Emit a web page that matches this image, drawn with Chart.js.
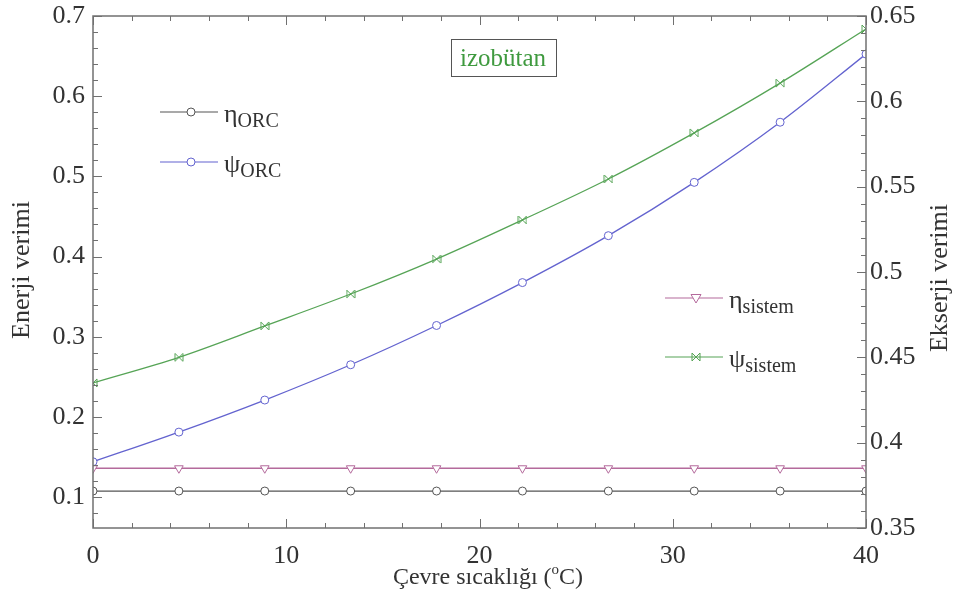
<!DOCTYPE html>
<html>
<head>
<meta charset="utf-8">
<script src="https://cdn.jsdelivr.net/npm/chart.js@4"></script>
<style>
  body { margin: 0; background: #fff; }
  canvas { display: block; }
</style>
</head>
<body>
<canvas id="verimChart" width="960" height="610"></canvas>
<script>
// Çevre sıcaklığı (°C) ve verimler
const sicaklik = [0, 4.444, 8.889, 13.333, 17.778, 22.222, 26.667, 31.111, 35.556, 40];
const etaORC = [0.1075, 0.1075, 0.1075, 0.1075, 0.1075, 0.1075, 0.1075, 0.1075, 0.1075, 0.1075];
const psiORC = [0.144, 0.181, 0.221, 0.265, 0.314, 0.3675, 0.426, 0.4925, 0.5675, 0.6525];
const etaSistem = [0.385, 0.385, 0.385, 0.385, 0.385, 0.385, 0.385, 0.385, 0.385, 0.385];
const psiSistem = [0.435, 0.450, 0.4684, 0.4871, 0.5076, 0.5305, 0.5545, 0.5815, 0.6107, 0.6424];

const xTicks = [0, 10, 20, 30, 40];
const solTicks = [0.1, 0.2, 0.3, 0.4, 0.5, 0.6, 0.7];
const sagTicks = [0.35, 0.4, 0.45, 0.5, 0.55, 0.6, 0.65];

const FONT = '"Liberation Serif", "Times New Roman", serif';
const TEXT = '#333';
const FRAME = '#707070';

const renkler = {
    etaORC: '#555555',
    psiORC: '#6363cf',
    etaSistem: '#b46a9c',
    psiSistem: '#56a456'
};

const pts = (vals) => vals.map((v, i) => ({ x: sicaklik[i], y: v }));
const fmt = (v) => String(+v.toFixed(2));

// "|><|" işareti
const bowtie = (color, s) => {
    const c = document.createElement('canvas');
    c.width = s * 2 + 2; c.height = s * 2 + 2;
    const g = c.getContext('2d');
    g.translate(s + 1, s + 1);
    g.strokeStyle = color;
    g.lineWidth = 1;
    g.beginPath();
    g.moveTo(-s, -s); g.lineTo(-s, s);
    g.moveTo(s, -s); g.lineTo(s, s);
    g.moveTo(-s, -s); g.lineTo(s, s);
    g.moveTo(-s, s); g.lineTo(s, -s);
    g.stroke();
    return c;
};

const bowtieMarker = bowtie(renkler.psiSistem, 4);

const drawMarker = (ctx, kind, color, x, y) => {
    ctx.save();
    ctx.strokeStyle = color;
    ctx.fillStyle = '#fff';
    ctx.lineWidth = 1;
    ctx.beginPath();
    if (kind === 'circle') {
        ctx.arc(x, y, 4, 0, Math.PI * 2);
        ctx.fill(); ctx.stroke();
    } else if (kind === 'tri') {
        ctx.moveTo(x - 5, y - 3.5);
        ctx.lineTo(x + 5, y - 3.5);
        ctx.lineTo(x, y + 5);
        ctx.closePath();
        ctx.fill(); ctx.stroke();
    } else {
        ctx.drawImage(bowtieMarker, x - bowtieMarker.width / 2, y - bowtieMarker.height / 2);
    }
    ctx.restore();
};

const legendItems = [
    { sym: 'η', sub: 'ORC', color: renkler.etaORC, kind: 'circle', x: 160, y: 112 },
    { sym: 'ψ', sub: 'ORC', color: renkler.psiORC, kind: 'circle', x: 160, y: 162 },
    { sym: 'η', sub: 'sistem', color: renkler.etaSistem, kind: 'tri', x: 665, y: 298 },
    { sym: 'ψ', sub: 'sistem', color: renkler.psiSistem, kind: 'bowtie', x: 665, y: 357 }
];

const cerceve = {
    id: 'cerceve',
    afterDraw(chart) {
        const { ctx, chartArea: a, scales } = chart;
        ctx.save();
        ctx.strokeStyle = FRAME;
        ctx.lineWidth = 1.5;
        ctx.strokeRect(a.left, a.top, a.right - a.left, a.bottom - a.top);

        ctx.lineWidth = 1;
        ctx.beginPath();
        // x ekseni (alt ve üst), içe dönük çentikler
        for (let v = 0; v <= 40; v += 2) {
            const px = Math.round(scales.x.getPixelForValue(v)) + 0.5;
            const len = v % 10 === 0 ? 9 : 5;
            ctx.moveTo(px, a.bottom); ctx.lineTo(px, a.bottom - len);
            ctx.moveTo(px, a.top); ctx.lineTo(px, a.top + len);
        }
        // sol eksen
        for (let k = 4; k <= 35; k++) {
            const py = Math.round(scales.y.getPixelForValue(k * 0.02)) + 0.5;
            const len = k % 5 === 0 ? 9 : 5;
            ctx.moveTo(a.left, py); ctx.lineTo(a.left + len, py);
        }
        // sağ eksen
        for (let k = 35; k <= 65; k++) {
            const py = Math.round(scales.y1.getPixelForValue(k * 0.01)) + 0.5;
            const len = k % 5 === 0 ? 9 : 5;
            ctx.moveTo(a.right, py); ctx.lineTo(a.right - len, py);
        }
        ctx.stroke();

        // eksen başlıkları
        ctx.fillStyle = TEXT;
        ctx.font = '26px ' + FONT;
        ctx.textAlign = 'center';
        ctx.textBaseline = 'middle';
        ctx.save();
        ctx.translate(22, 270);
        ctx.rotate(-Math.PI / 2);
        ctx.fillText('Enerji verimi', 0, 0);
        ctx.restore();
        ctx.save();
        ctx.translate(940, 278);
        ctx.rotate(-Math.PI / 2);
        ctx.fillText('Ekserji verimi', 0, 0);
        ctx.restore();

        const p1 = 'Çevre sıcaklığı (', p2 = 'o', p3 = 'C)';
        ctx.font = '24px ' + FONT;
        const w1 = ctx.measureText(p1).width, w3 = ctx.measureText(p3).width;
        ctx.font = '15px ' + FONT;
        const w2 = ctx.measureText(p2).width;
        const x0 = 488 - (w1 + w2 + w3) / 2;
        const yb = 584;
        ctx.textAlign = 'left';
        ctx.textBaseline = 'alphabetic';
        ctx.font = '24px ' + FONT;
        ctx.fillText(p1, x0, yb);
        ctx.font = '15px ' + FONT;
        ctx.fillText(p2, x0 + w1, yb - 10);
        ctx.font = '24px ' + FONT;
        ctx.fillText(p3, x0 + w1 + w2, yb);

        // akışkan kutusu
        ctx.strokeStyle = '#555';
        ctx.lineWidth = 1;
        ctx.strokeRect(451.5, 39.5, 105, 37);
        ctx.fillStyle = '#3f9a3f';
        ctx.font = '25px ' + FONT;
        ctx.textAlign = 'center';
        ctx.textBaseline = 'middle';
        ctx.fillText('izobütan', 503, 59);

        // gösterge
        legendItems.forEach(it => {
            ctx.strokeStyle = it.color;
            ctx.lineWidth = 1.2;
            ctx.beginPath();
            ctx.moveTo(it.x, it.y); ctx.lineTo(it.x + 58, it.y);
            ctx.stroke();
            drawMarker(ctx, it.kind, it.color, it.x + 31, it.y);
            ctx.fillStyle = TEXT;
            ctx.textAlign = 'left';
            ctx.textBaseline = 'alphabetic';
            ctx.font = '26px ' + FONT;
            const sx = it.x + 64;
            ctx.fillText(it.sym, sx, it.y + 10);
            const sw = ctx.measureText(it.sym).width;
            ctx.font = '20px ' + FONT;
            ctx.fillText(it.sub, sx + sw, it.y + 15);
        });
        ctx.restore();
    }
};

const dataset = (label, vals, axis, color, style) => ({
    label,
    data: pts(vals),
    yAxisID: axis,
    borderColor: color,
    borderWidth: 1.3,
    pointStyle: style.pointStyle,
    rotation: style.rotation || 0,
    pointRadius: style.radius || 4,
    pointBackgroundColor: '#fff',
    pointBorderColor: color,
    pointBorderWidth: 1,
    cubicInterpolationMode: 'monotone',
    fill: false
});

const tickFont = { family: FONT, size: 26 };

new Chart(document.getElementById('verimChart'), {
    type: 'line',
    data: {
        datasets: [
            dataset('ηORC', etaORC, 'y', renkler.etaORC, { pointStyle: 'circle' }),
            dataset('ψORC', psiORC, 'y', renkler.psiORC, { pointStyle: 'circle' }),
            dataset('ηsistem', etaSistem, 'y1', renkler.etaSistem, { pointStyle: 'triangle', rotation: 180, radius: 5 }),
            dataset('ψsistem', psiSistem, 'y1', renkler.psiSistem, { pointStyle: bowtieMarker })
        ]
    },
    options: {
        responsive: false,
        animation: false,
        devicePixelRatio: 1,
        layout: { padding: { top: 16, left: 0, right: 0, bottom: 0 } },
        plugins: { legend: { display: false }, tooltip: { enabled: false } },
        scales: {
            x: {
                type: 'linear',
                min: 0, max: 40,
                grid: { display: false, drawTicks: false },
                border: { display: false },
                afterBuildTicks: (s) => { s.ticks = xTicks.map(value => ({ value })); },
                afterFit: (s) => { s.height = 82; s.paddingLeft = 0; s.paddingRight = 0; },
                ticks: { color: TEXT, font: tickFont, padding: 13, maxRotation: 0 }
            },
            y: {
                position: 'left',
                min: 0.0614, max: 0.7,
                grid: { display: false, drawTicks: false },
                border: { display: false },
                afterBuildTicks: (s) => { s.ticks = solTicks.map(value => ({ value })); },
                afterFit: (s) => { s.width = 93; s.paddingTop = 0; s.paddingBottom = 0; },
                ticks: { color: TEXT, font: tickFont, padding: 8, callback: fmt }
            },
            y1: {
                position: 'right',
                min: 0.35, max: 0.65,
                grid: { display: false, drawTicks: false },
                border: { display: false },
                afterBuildTicks: (s) => { s.ticks = sagTicks.map(value => ({ value })); },
                afterFit: (s) => { s.width = 94; s.paddingTop = 0; s.paddingBottom = 0; },
                ticks: { color: TEXT, font: tickFont, padding: 4, callback: fmt }
            }
        }
    },
    plugins: [cerceve]
});
</script>
</body>
</html>
